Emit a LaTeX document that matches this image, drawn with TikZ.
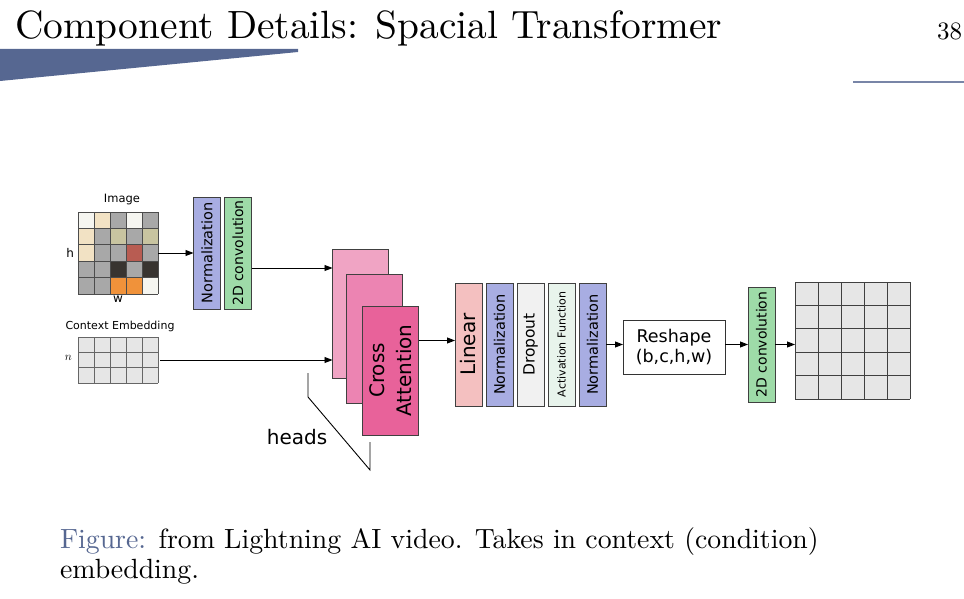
\documentclass[tikz,border=0pt]{standalone}
\usepackage{fontspec}
\usepackage{graphicx}
\setmainfont{lmroman10-regular}[Extension=.otf]
\newfontfamily\diagfont{DejaVu Sans}
\usetikzlibrary{arrows.meta, positioning}

\definecolor{slideblue}{RGB}{86,103,145}
\definecolor{normblue}{RGB}{168,173,226}
\definecolor{convgreen}{RGB}{158,219,168}
\definecolor{linpink}{RGB}{244,192,192}
\definecolor{dropgray}{RGB}{241,241,241}
\definecolor{actgreen}{RGB}{232,244,236}
\definecolor{attA}{RGB}{240,164,196}
\definecolor{attB}{RGB}{236,132,178}
\definecolor{attC}{RGB}{232,98,154}
\definecolor{cellgray}{RGB}{230,230,230}
\definecolor{px-wh}{RGB}{245,245,240}
\definecolor{px-bg}{RGB}{242,226,196}
\definecolor{px-gy}{RGB}{168,168,168}
\definecolor{px-kh}{RGB}{200,196,160}
\definecolor{px-rd}{RGB}{184,92,82}
\definecolor{px-dk}{RGB}{56,52,48}
\definecolor{px-or}{RGB}{240,146,58}

\begin{document}
\begin{tikzpicture}[
  x=1pt, y=-1pt,
  every node/.style={inner sep=0pt, outer sep=0pt},
  layerbox/.style={draw=black!75, line width=0.9pt, minimum width=27pt,
                   minimum height=#1, font=\diagfont},
  layerbox/.default=123pt,
  headbox/.style={draw=black!75, line width=0.9pt, minimum width=56pt,
                  minimum height=129pt},
  gridbox/.style={minimum width=80pt, fill=cellgray},
  arr/.style={-{Triangle[length=8pt, width=6pt]}, line width=0.9pt},
  lbl/.style={font=\diagfont\fontsize{#1}{#1}\selectfont}
]
\useasboundingbox (0,0) rectangle (964,599);

% slide frame
\node[anchor=base west, font=\fontsize{39.4}{40}\selectfont] (title) at (15,39)
  {Component Details: Spacial Transformer};
\node[anchor=base east, font=\fontsize{25}{25}\selectfont] (page) at (962,40) {38};
\fill[slideblue] (0,49) -- (298,49) -- (298,52) -- (0,81) -- cycle;
\draw[slideblue!80, line width=2pt] (853,82) -- (964,82);

% input image
\node[lbl=11.5, anchor=south] (imglbl) at (122,205) {Image};
\node[minimum width=80pt, minimum height=82pt] (img) at (118,253) {};
\begin{scope}[shift={(img.north west)}]
  \foreach \row [count=\r from 0] in {{wh,bg,gy,wh,gy},{bg,gy,kh,gy,kh},
      {bg,gy,gy,rd,gy},{gy,gy,dk,gy,dk},{gy,gy,or,or,wh}}
    \foreach \c [count=\k from 0] in \row
      \fill[px-\c] (16*\k,16.4*\r) rectangle ++(16,16.4);
  \foreach \i in {0,...,5}
  {
    \draw[black!70, line width=1pt] (16*\i,0) -- (16*\i,82);
    \draw[black!70, line width=1pt] (0,16.4*\i) -- (80,16.4*\i);
  }
\end{scope}
\node[lbl=12, anchor=east] (hlbl) at (74,253) {h};
\node[lbl=12, anchor=north] (wlbl) at (118,296) {w};

% context embedding
\node[lbl=11, anchor=south] (ctxlbl) at (120,332) {Context Embedding};
\node[gridbox, minimum height=46pt] (ctx) at (118,360) {};
\begin{scope}[shift={(ctx.north west)}]
  \foreach \i in {0,...,5}
    \draw[black!60, line width=0.8pt] (16*\i,0) -- (16*\i,46);
  \foreach \j in {0,...,3}
    \draw[black!60, line width=0.8pt] (0,15.33*\j) -- (80,15.33*\j);
\end{scope}
\node[anchor=east, font=\fontsize{12}{12}\selectfont] (nlbl) at (72,358) {$n$};

% first stage
\node[layerbox=112pt, fill=normblue] (norm1) at (207,253)
  {\rotatebox{90}{\fontsize{14.5}{14.5}\selectfont Normalization}};
\node[layerbox=112pt, fill=convgreen, right=4pt of norm1] (conv1)
  {\rotatebox{90}{\fontsize{14}{14}\selectfont 2D convolution}};

% attention heads
\node[headbox, fill=attA] (headA) at (360.5,313.5) {};
\node[headbox, fill=attB] (headB) at (374,339) {};
\node[headbox, fill=attC] (headC) at (390.5,370.5)
  {\rotatebox{90}{\parbox{100pt}{\centering\diagfont\fontsize{20}{27}\selectfont
   Cross\\Attention}}};
\coordinate (brA) at (308,373);
\coordinate (brB) at (308,397);
\coordinate (brC) at (370,470);
\coordinate (brD) at (370,442);
\draw[line width=0.9pt] (brA) -- (brB) -- (brC) -- (brD);
\node[lbl=20, anchor=base] (heads) at (297,444) {heads};

% feed forward
\node[layerbox, fill=linpink] (linear) at (468.5,344.5)
  {\rotatebox{90}{\fontsize{20}{20}\selectfont Linear}};
\node[layerbox, fill=normblue, right=4pt of linear] (norm2)
  {\rotatebox{90}{\fontsize{14.5}{14.5}\selectfont Normalization}};
\node[layerbox, fill=dropgray, right=4pt of norm2] (drop)
  {\rotatebox{90}{\fontsize{15.5}{15.5}\selectfont Dropout}};
\node[layerbox, fill=actgreen, right=4pt of drop] (act)
  {\rotatebox{90}{\fontsize{11}{11}\selectfont Activation Function}};
\node[layerbox, fill=normblue, right=4pt of act] (norm3)
  {\rotatebox{90}{\fontsize{14.5}{14.5}\selectfont Normalization}};

% output stage
\node[draw=black!80, line width=0.9pt, minimum width=102pt, minimum height=54pt,
      align=center, lbl=17.5] (reshape) at (674,347)
  {Reshape\\[3pt](b,c,h,w)};
\node[layerbox=115pt, fill=convgreen] (conv2) at (761.5,344.5)
  {\rotatebox{90}{\fontsize{14}{14}\selectfont 2D convolution}};
\node[gridbox, minimum width=115pt, minimum height=117pt] (out) at (852.5,340.5) {};
\begin{scope}[shift={(out.north west)}]
  \foreach \i in {0,...,5}
  {
    \draw[black!75, line width=1pt] (23*\i,0) -- (23*\i,117);
    \draw[black!75, line width=1pt] (0,23.4*\i) -- (115,23.4*\i);
  }
\end{scope}

% connectors
\draw[arr] (img.east) -- (norm1.west);
\coordinate (convout) at ([yshift=-15pt]conv1.east);
\draw[arr] (convout) -- (convout -| headA.west);
\draw[arr] ([xshift=2pt]ctx.east) -- (ctx.east -| headA.west);
\coordinate (attout) at ([yshift=30pt]headC.east);
\draw[arr] (attout) -- (attout -| linear.west);
\draw[arr] (norm3.east) -- (norm3.east -| reshape.west);
\draw[arr] (conv2.west -| reshape.east) -- (conv2.west);
\draw[arr] (conv2.east) -- (conv2.east -| out.west);

% caption
\node[anchor=base west, align=left, font=\fontsize{27.8}{30}\selectfont] (caption) at (60,578)
  {\textcolor{slideblue}{Figure:} from Lightning AI video. Takes in context (condition)\\embedding.};
\end{tikzpicture}
\end{document}
